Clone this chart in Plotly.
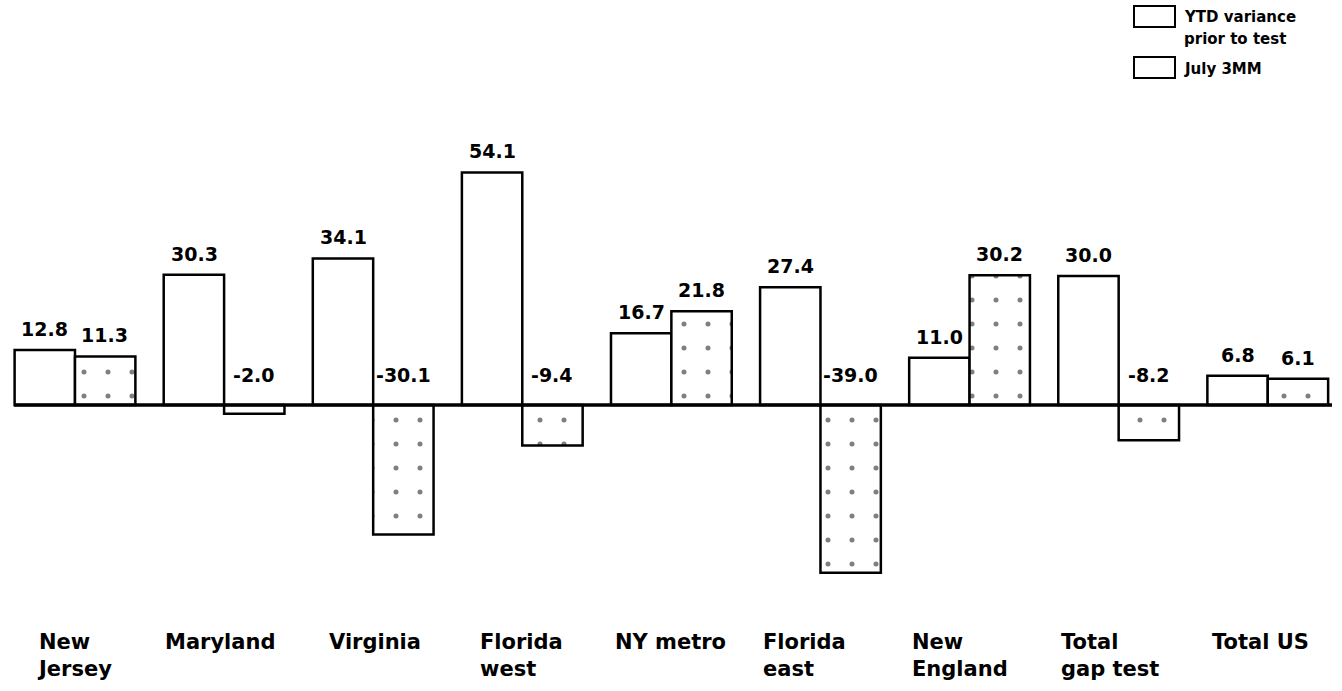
import plotly.graph_objects as go

# Regional variance figures
regions = ["New Jersey", "Maryland", "Virginia", "Florida west", "NY metro",
           "Florida east", "New England", "Total gap test", "Total US"]
region_labels = ["New<br>Jersey", "Maryland", "Virginia", "Florida<br>west", "NY metro",
                 "Florida<br>east", "New<br>England", "Total<br>gap test", "Total US"]
ytd_variance = [12.8, 30.3, 34.1, 54.1, 16.7, 27.4, 11.0, 30.0, 6.8]
july_3mm = [11.3, -2.0, -30.1, -9.4, 21.8, -39.0, 30.2, -8.2, 6.1]

W, H = 1342, 691
FONT = "DejaVu Sans, Verdana, sans-serif"

fig = go.Figure()
fig.add_trace(go.Bar(
    x=regions, y=ytd_variance, name="YTD variance prior to test",
    marker=dict(color="white", line=dict(color="black", width=2.5)),
))
fig.add_trace(go.Bar(
    x=regions, y=july_3mm, name="July 3MM",
    marker=dict(color="white", line=dict(color="black", width=2.5),
                pattern=dict(shape=".", size=24, solidity=0.035,
                             fgcolor="black", bgcolor="white")),
))

# Value labels: above the bar for positives, just above the baseline for negatives
annotations = []
for series, shift in ((ytd_variance, -30), (july_3mm, 30)):
    for r, v in zip(regions, series):
        annotations.append(dict(
            x=r, y=max(v, 0), xref="x", yref="y", xshift=shift,
            yshift=8 if v >= 0 else 17,
            text=f"<b>{v:.1f}</b>", showarrow=False, xanchor="center", yanchor="bottom",
            font=dict(family=FONT, size=19, color="black"),
        ))

# Category names, left-aligned under each group
label_shift = [-40, -61, -46, -44, -58, -59, -60, -60, -58]
for r, lab, s in zip(regions, region_labels, label_shift):
    annotations.append(dict(
        x=r, y=1 - 628 / H, xref="x", yref="paper", xshift=s,
        text=f"<b>{lab}</b>", showarrow=False, xanchor="left", yanchor="top", align="left",
        font=dict(family=FONT, size=21, color="black"),
    ))

# Baseline and hand-drawn legend boxes
shapes = [
    dict(type="line", xref="paper", yref="y", x0=14 / W, x1=1332 / W, y0=0, y1=0,
         line=dict(color="black", width=3.5)),
    dict(type="rect", xref="paper", yref="paper", x0=1134 / W, x1=1175 / W,
         y0=1 - 27 / H, y1=1 - 6 / H, line=dict(color="black", width=2), fillcolor="white"),
    dict(type="rect", xref="paper", yref="paper", x0=1134 / W, x1=1175 / W,
         y0=1 - 78 / H, y1=1 - 57 / H, line=dict(color="black", width=2), fillcolor="white"),
]
legend_text = [("YTD variance", 6), ("prior to test", 28), ("July 3MM", 58)]
for txt, top in legend_text:
    annotations.append(dict(
        x=1182 / W, y=1 - top / H, xref="paper", yref="paper", xanchor="left",
        yanchor="top", align="left", showarrow=False, text=f"<b>{txt}</b>",
        font=dict(family=FONT, size=15, color="black"),
    ))

fig.update_layout(
    width=W, height=H,
    margin=dict(l=0, r=0, t=0, b=0),
    paper_bgcolor="white", plot_bgcolor="white",
    barmode="group", bargap=0.19, bargroupgap=0,
    showlegend=False,
    xaxis=dict(range=[-0.503, 8.498], showticklabels=False, showgrid=False,
               zeroline=False, showline=False, ticks=""),
    yaxis=dict(range=[-66.5, 94.2], showticklabels=False, showgrid=False,
               zeroline=False, showline=False, ticks=""),
    shapes=shapes,
    annotations=annotations,
)

fig.write_html("out.html")
